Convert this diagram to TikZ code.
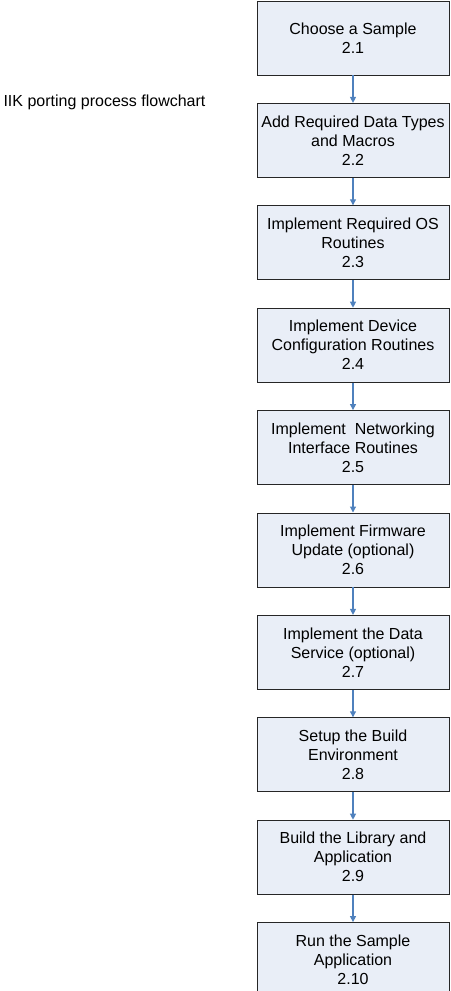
\documentclass[tikz,border=0pt]{standalone}
\usepackage{fontspec}
\setmainfont{Liberation Sans}
\usetikzlibrary{arrows.meta,positioning}

\definecolor{boxfill}{RGB}{233,238,247}
\definecolor{flowblue}{RGB}{79,129,189}

\tikzset{
  task/.style={draw=black!85, fill=boxfill, line width=0.9pt,
    minimum width=192pt, minimum height=74pt, inner sep=2pt,
    align=center, font=\fontsize{16}{19}\selectfont},
  flow/.style={draw=flowblue, line width=1.1pt,
    -{Triangle[length=6pt,width=6pt]}},
}

\begin{document}
\begin{tikzpicture}[node distance=27.5pt]
  \useasboundingbox (0,0) rectangle (450pt,-991pt);

  \node[anchor=west, font=\fontsize{16}{19}\selectfont] (title) at (0pt,-102pt)
    {IIK porting process flowchart};

  \node[task, anchor=north] (sample)   at (353pt,-0.5pt) {Choose a Sample\\2.1};
  \node[task] (datatypes)  [below=of sample]     {Add Required Data Types\\and Macros\\2.2};
  \node[task] (osroutines) [below=of datatypes]  {Implement Required OS\\Routines\\2.3};
  \node[task] (devconfig)  [below=of osroutines] {Implement Device\\Configuration Routines\\2.4};
  \node[task] (network)    [below=of devconfig]  {Implement\ \ Networking\\Interface Routines\\2.5};
  \node[task] (firmware)   [below=of network]    {Implement Firmware\\Update (optional)\\2.6};
  \node[task] (dataserv)   [below=of firmware]   {Implement the Data\\Service (optional)\\2.7};
  \node[task] (buildenv)   [below=of dataserv]   {Setup the Build\\Environment\\2.8};
  \node[task] (library)    [below=of buildenv]   {Build the Library and\\Application\\2.9};
  \node[task] (runapp)     [below=of library]    {Run the Sample\\Application\\2.10};

  \draw[flow] (sample)     -- (datatypes);
  \draw[flow] (datatypes)  -- (osroutines);
  \draw[flow] (osroutines) -- (devconfig);
  \draw[flow] (devconfig)  -- (network);
  \draw[flow] (network)    -- (firmware);
  \draw[flow] (firmware)   -- (dataserv);
  \draw[flow] (dataserv)   -- (buildenv);
  \draw[flow] (buildenv)   -- (library);
  \draw[flow] (library)    -- (runapp);
\end{tikzpicture}
\end{document}
